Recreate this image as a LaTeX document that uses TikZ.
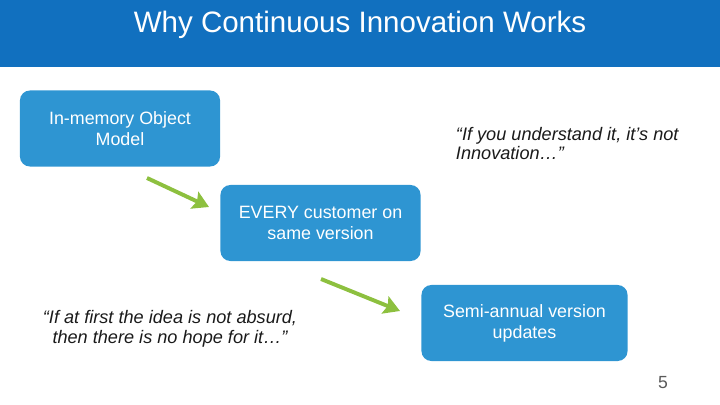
\documentclass[tikz,border=0pt]{standalone}
\usepackage{fontspec}
\setmainfont{Liberation Sans}
\usetikzlibrary{arrows.meta}

\definecolor{testata}{HTML}{1170BF}
\definecolor{scatola}{HTML}{2E95D2}
\definecolor{freccia}{HTML}{8DC03F}
\definecolor{citaz}{HTML}{1A1A1A}

\begin{document}
\begin{tikzpicture}[x=0.025cm, y=-0.025cm,
  blocco/.style={fill=scatola, rounded corners=7pt, text=white, align=center,
    minimum width=5cm, minimum height=1.9cm, font=\fontsize{12.7}{15}\selectfont},
  citazione/.style={text=citaz, font=\fontsize{12.9}{14}\selectfont\itshape},
  passo/.style={-{Stealth[length=4mm,width=4.6mm,inset=0.7mm]}, freccia, line width=2.8pt}]

\useasboundingbox (0,0) rectangle (720,405);

% testata
\fill[testata] (0,0) rectangle (720,67);
\node[text=white, font=\fontsize{21}{24}\selectfont] (titolo) at (360,24.5)
  {Why Continuous Innovation Works};

% blocchi
\node[blocco] (oggetti) at (120,128.5) {In-memory Object\\Model};
\node[blocco] (versione) at (320.5,223) {EVERY customer on\\same version};
\node[blocco, minimum width=5.15cm] (rilasci) at (524.5,323) {Semi-annual version\\updates};

% citazioni
\node[citazione, align=left, anchor=west] (cit1) at (451,143.5)
  {“If you understand it, it’s not\\Innovation…”};
\node[citazione, align=center] (cit2) at (170,328.5)
  {“If at first the idea is not absurd,\\then there is no hope for it…”};

% frecce
\coordinate (a1) at (147,178);
\coordinate (b1) at (209,207);
\coordinate (a2) at (321,279);
\coordinate (b2) at (400,311);
\draw[passo] (a1) -- (b1);
\draw[passo] (a2) -- (b2);

% numero pagina
\node[text=black!65, font=\fontsize{12.5}{14}\selectfont] (pagina) at (663,383) {5};

\end{tikzpicture}
\end{document}
